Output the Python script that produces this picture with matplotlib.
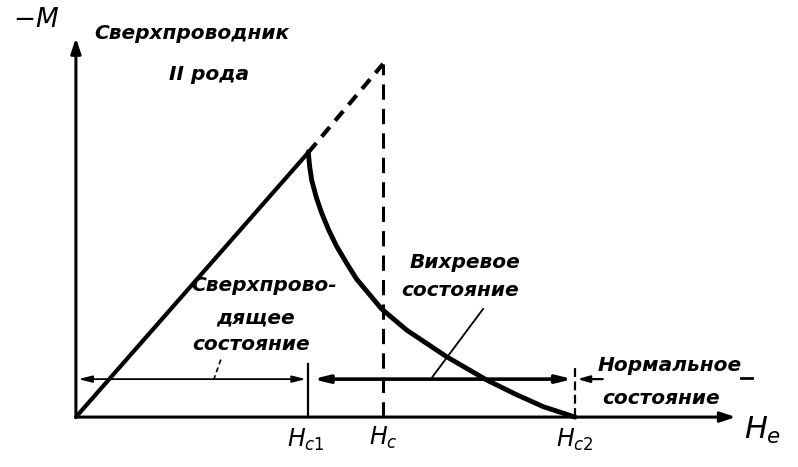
import matplotlib.pyplot as plt

# Field values (units of Hc1 ~ 1)
h_c1 = 1.01
h_c = 1.335
h_c2 = 2.17
m_peak = 1.15          # -M at Hc1 (Meissner line ends here)
m_thermo = 1.535       # -M of the ideal type I line at Hc

# Vortex-state branch: -M falling from Hc1 to Hc2
vortex_h = [1.01, 1.016, 1.025, 1.045, 1.068, 1.098, 1.133, 1.175, 1.220, 1.329, 1.438, 1.612, 1.786, 1.91, 2.032, 2.17]
vortex_m = [1.153, 1.09, 1.030, 0.955, 0.888, 0.815, 0.743, 0.672, 0.600, 0.470, 0.378, 0.262, 0.161, 0.10, 0.045, 0.0]

state_level = 0.165    # height of the state arrows

plt.rcParams['font.family'] = ['DejaVu Sans']
plt.rcParams['mathtext.fontset'] = 'dejavusans'

fig = plt.figure(figsize=(7.98, 4.67), dpi=100)
ax = fig.add_axes([0, 0, 1, 1])
ax.set_xlim(-0.330, 3.139)
ax.set_ylim(-0.217, 1.813)
ax.axis('off')

lbl = dict(fontstyle='italic', fontweight='bold', color='black', fontsize=14.5,
           ha='center', va='center')

# axes with arrows
ax.annotate('', xy=(0, 1.66), xytext=(0, -0.005),
            arrowprops=dict(arrowstyle='-|>,head_length=0.9,head_width=0.3', lw=2.2, color='black'))
ax.annotate('', xy=(2.88, 0), xytext=(-0.005, 0),
            arrowprops=dict(arrowstyle='-|>,head_length=0.9,head_width=0.3', lw=2.2, color='black'))
ax.text(-0.175, 1.725, '$-M$', fontsize=19, ha='center', va='center')
ax.text(2.985, -0.06, '$H_e$', fontsize=22, ha='center', va='center')

# Meissner line and its dashed continuation up to Hc
ax.plot([0, h_c1], [0, m_peak], color='black', lw=3.0, solid_capstyle='round')
ax.plot([h_c1, h_c], [m_peak, m_thermo], color='black', lw=3.0, ls=(0, (3, 2)))
ax.plot([h_c, h_c], [0, m_thermo], color='black', lw=2.2, ls=(0, (5, 3)))

# vortex branch
ax.plot(vortex_h, vortex_m, color='black', lw=3.5, solid_joinstyle='round', solid_capstyle='round')

# short marks at Hc1 and Hc2
ax.plot([h_c1, h_c1], [0, state_level + 0.065], color='black', lw=1.6)
ax.plot([h_c2, h_c2], [0, state_level + 0.055], color='black', lw=1.6, ls=(0, (4, 2)))

# state arrows
thin = dict(arrowstyle='<|-|>,head_length=0.8,head_width=0.2', lw=1.3, color='black',
            shrinkA=0, shrinkB=0)
ax.annotate('', xy=(h_c1 - 0.01, state_level), xytext=(0.01, state_level), arrowprops=thin)
thick = dict(arrowstyle='<|-|>,head_length=0.9,head_width=0.22', lw=2.6, color='black',
             shrinkA=0, shrinkB=0)
ax.annotate('', xy=(h_c2 - 0.01, state_level), xytext=(h_c1 + 0.02, state_level), arrowprops=thick)
ax.annotate('', xy=(h_c2 + 0.01, state_level), xytext=(h_c2 + 0.12, state_level),
            arrowprops=dict(arrowstyle='-|>,head_length=0.7,head_width=0.2', lw=1.6, color='black',
                            shrinkA=0, shrinkB=0))

# leader lines to the state labels
ax.plot([0.63, 0.60], [0.25, state_level], color='black', lw=1.2, ls=(0, (3, 2)))
ax.plot([1.77, 1.55], [0.47, state_level + 0.01], color='black', lw=1.3)

# field marks on the H axis
ax.text(h_c1 - 0.01, -0.10, '$H_{c1}$', fontsize=17, ha='center', va='center')
ax.text(h_c, -0.09, '$H_c$', fontsize=17, ha='center', va='center')
ax.text(h_c2, -0.10, '$H_{c2}$', fontsize=17, ha='center', va='center')

# region labels
ax.text(0.505, 1.668, 'Сверхпроводник', **lbl)
ax.text(0.58, 1.49, 'II рода', **lbl)

ax.text(0.82, 0.57, 'Сверхпрово-', **lbl)
ax.text(0.78, 0.43, 'дящее', **lbl)
ax.text(0.76, 0.315, 'состояние', **lbl)

ax.text(1.69, 0.67, 'Вихревое', **lbl)
ax.text(1.67, 0.55, 'состояние', **lbl)

ax.text(2.58, 0.225, 'Нормальное', **lbl)
ax.plot([2.89, 2.94], [0.17, 0.17], color='black', lw=2.0)
ax.text(2.545, 0.08, 'состояние', **lbl)

fig.savefig('out.png', dpi=100, facecolor='white')
